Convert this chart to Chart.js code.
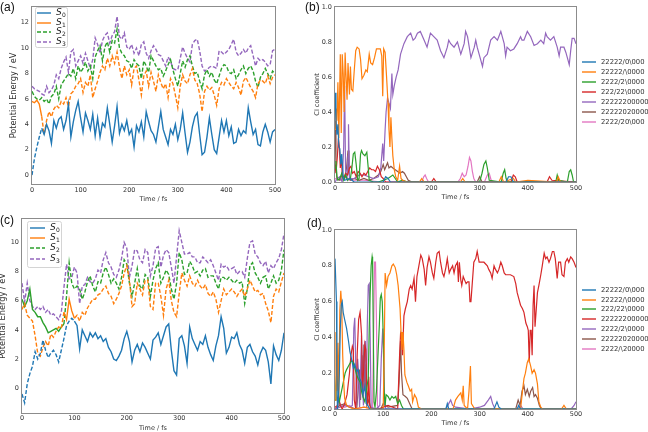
<!DOCTYPE html>
<html><head><meta charset="utf-8">
<script src="https://cdn.jsdelivr.net/npm/chart.js@4.4.1/dist/chart.umd.min.js"></script>
<style>
html,body{margin:0;padding:0;background:#fff;width:648px;height:432px;overflow:hidden}
canvas{position:absolute;left:0;top:0}
</style></head><body>
<canvas id="pa" width="648" height="432"></canvas>
<canvas id="pb" width="648" height="432"></canvas>
<canvas id="pc" width="648" height="432"></canvas>
<canvas id="pd" width="648" height="432"></canvas>
<script>
// ---------- data ----------
const timeFs = [0,5,10,15,20,25,30,35,40,45,50,55,60,65,70,75,80,85,90,95,100,105,110,115,120,125,130,135,140,145,150,155,160,165,170,175,180,185,190,195,200,205,210,215,220,225,230,235,240,245,250,255,260,265,270,275,280,285,290,295,300,305,310,315,320,325,330,335,340,345,350,355,360,365,370,375,380,385,390,395,400,405,410,415,420,425,430,435,440,445,450,455,460,465,470,475,480,485,490,495,500];
const stateLabels = ['S0','S1','S2','S3'];

// panel (a) potential energies (eV)
const energyA_S0 = [0.0,1.3,2.2,3.0,3.7,3.2,4.0,3.5,2.5,4.3,
3.7,4.4,4.6,3.6,4.3,5.6,3.0,4.2,5.1,5.8,
4.5,3.4,4.9,4.3,3.6,4.8,3.1,4.5,3.0,4.1,
3.8,5.3,4.0,2.6,3.9,5.4,3.3,4.0,3.5,4.3,
3.2,3.6,2.2,3.9,3.4,4.2,3.0,5.0,4.2,3.5,
3.2,2.6,3.8,5.0,3.6,3.0,2.4,3.6,3.2,4.0,
2.8,3.6,4.9,3.3,1.8,2.6,3.8,4.6,4.9,3.2,
1.6,1.8,3.0,4.5,3.2,2.0,1.7,3.0,4.3,3.4,
4.3,3.1,3.8,2.5,2.6,3.6,3.1,3.5,3.3,5.3,
4.2,3.2,3.6,2.4,2.3,3.4,4.0,3.4,2.6,3.4,
3.6];
const energyA_S1 = [5.8,5.7,5.9,5.6,4.6,3.2,4.3,5.0,4.6,5.2,
5.5,5.3,5.8,5.6,6.1,5.4,6.4,6.6,7.0,7.2,
7.6,6.5,7.3,7.0,7.9,6.1,6.8,7.4,8.1,8.6,
8.3,9.2,8.6,9.4,8.8,9.7,8.5,7.6,8.6,7.9,
8.3,7.1,8.4,8.6,7.5,6.3,7.8,8.2,7.0,8.1,
7.4,6.6,7.9,7.3,6.8,7.2,6.1,7.6,7.2,6.3,
5.3,7.0,7.9,7.4,7.2,7.9,8.4,7.5,7.2,6.4,
5.0,6.6,7.0,6.7,6.9,6.3,5.5,6.8,7.3,7.1,
7.6,7.3,7.0,6.8,7.3,6.9,6.3,7.4,7.7,7.3,
6.9,6.6,6.1,7.2,7.5,7.4,7.2,7.8,7.2,7.7,
7.9];
const energyA_S2 = [6.6,6.2,6.0,5.9,6.1,5.8,6.0,5.6,6.2,6.4,
7.0,6.0,7.1,7.4,7.7,8.0,7.8,8.4,7.6,8.6,
8.1,8.4,8.9,8.2,8.6,7.6,9.3,9.8,10.2,9.0,
10.1,10.5,9.7,10.6,10.4,11.5,10.0,9.6,9.4,9.0,
8.9,8.4,9.1,8.8,8.6,7.6,9.0,8.6,8.1,9.4,
9.0,8.6,8.3,8.4,7.8,8.2,8.7,9.1,8.3,7.6,
7.0,8.0,9.0,8.5,9.1,9.4,8.6,8.0,8.1,7.4,
6.8,7.9,8.3,7.8,8.1,7.5,7.2,7.8,8.4,8.7,
8.6,8.1,8.0,8.3,7.6,7.9,8.3,8.6,8.0,8.4,
8.6,8.2,7.4,6.9,7.7,8.0,8.4,8.0,7.6,8.2,
8.0];
const energyA_S3 = [7.0,6.8,6.7,6.6,6.4,6.3,7.0,6.5,6.7,7.1,
7.9,7.6,8.4,8.9,9.3,8.1,9.7,9.9,8.6,9.0,
9.4,8.8,9.6,9.0,8.4,9.1,10.8,10.3,9.6,10.6,
11.0,11.2,10.4,11.0,11.3,12.5,10.9,10.7,11.2,10.1,
9.9,10.3,9.6,10.0,9.4,10.3,10.5,9.6,9.2,9.8,
10.2,9.9,9.5,9.4,9.0,8.6,9.3,9.0,8.4,8.3,
8.3,9.2,10.1,9.6,9.2,8.9,10.3,10.6,10.7,9.8,
8.6,8.2,8.3,8.5,8.6,8.5,8.4,9.8,9.7,9.5,
9.7,9.9,10.3,10.7,9.7,9.4,9.6,9.9,9.6,10.0,
10.2,9.4,8.6,9.2,9.0,9.1,8.9,8.6,8.7,9.8,
9.9];

// panel (c) potential energies (eV)
const energyC_S0 = [-0.4,-1.0,0.3,1.0,1.5,2.5,2.0,2.4,3.3,2.6,
2.1,2.4,2.6,2.3,1.8,2.6,3.4,4.3,4.6,4.8,
4.6,4.3,2.7,4.0,3.6,3.2,3.8,3.5,3.8,3.4,
3.6,3.2,3.4,2.8,2.5,2.0,1.9,2.2,2.6,3.4,
3.9,3.2,1.8,2.6,3.0,2.5,3.1,2.8,2.4,2.0,
3.3,3.5,3.8,3.0,3.6,4.2,4.4,2.6,1.2,0.9,
3.4,3.6,2.9,1.7,4.2,3.4,3.0,2.6,3.2,3.0,
3.6,2.8,2.3,1.9,2.9,3.6,4.9,4.1,2.4,2.8,
3.5,3.4,3.8,3.0,2.6,1.7,2.8,3.0,2.5,2.2,
1.6,2.4,2.8,2.6,1.8,0.3,2.9,2.3,1.9,2.6,
3.8];
const energyC_S1 = [5.4,5.8,5.0,4.8,4.6,3.6,2.4,2.2,2.8,3.2,
2.9,3.7,3.5,3.9,4.2,4.1,5.2,4.7,6.1,5.3,
4.8,5.0,4.6,5.2,5.0,5.5,5.8,6.1,6.1,6.4,
6.5,6.8,7.0,6.5,6.3,5.8,6.1,6.5,7.0,7.9,
8.4,7.4,5.6,5.8,7.2,6.8,6.4,7.4,7.4,5.6,
5.4,7.2,7.2,6.3,5.0,6.8,7.4,6.0,5.2,4.9,
6.5,7.9,7.4,7.0,7.7,7.2,7.0,7.4,7.0,6.8,
7.1,6.5,6.3,6.6,6.1,5.2,6.0,6.8,6.4,6.6,
6.8,6.6,6.3,6.6,6.8,6.3,6.8,7.4,7.0,6.6,
6.7,6.4,6.5,5.8,5.3,4.5,6.3,6.8,6.6,7.3,
7.9];
const energyC_S2 = [6.1,5.6,6.0,6.8,5.4,5.2,4.9,4.9,4.5,4.2,
3.8,3.9,4.0,4.1,3.9,4.2,4.4,6.3,8.6,7.2,
6.8,7.0,6.8,6.1,6.6,7.3,7.7,7.0,6.6,7.3,
7.2,7.9,8.3,7.8,7.2,7.5,7.2,6.8,7.6,8.8,
8.5,7.2,6.3,7.2,8.2,7.0,6.8,7.8,7.6,6.3,
7.4,8.2,8.6,7.2,7.6,8.1,7.8,6.8,6.1,7.2,
9.3,8.8,7.8,7.9,8.7,8.4,7.9,8.0,7.7,8.1,
8.2,7.6,7.7,7.7,7.2,6.8,7.6,7.6,7.4,7.6,
7.4,7.2,7.4,7.2,7.3,5.8,6.8,8.4,8.6,7.9,
7.6,7.2,7.6,7.7,6.8,7.2,7.7,7.2,7.4,8.1,
9.5];
const energyC_S3 = [7.2,5.9,7.2,6.0,5.6,5.4,5.6,5.4,5.6,5.2,
5.4,5.0,5.1,4.9,4.7,5.2,6.9,8.5,7.5,7.6,
8.3,7.9,5.8,7.0,7.1,7.6,7.3,7.2,7.5,8.1,
7.9,8.8,9.3,8.6,8.3,7.8,7.6,8.1,8.9,10.0,
9.6,7.6,8.4,9.5,9.4,8.8,8.6,9.5,9.3,7.7,
8.4,9.6,9.7,8.3,9.1,9.5,9.3,8.3,7.2,9.0,
10.8,10.0,9.2,9.2,9.3,9.0,9.0,8.6,8.6,9.0,
8.8,8.6,8.8,8.4,7.9,7.4,8.5,8.3,8.4,8.1,
8.2,8.3,7.8,8.0,8.0,7.6,8.9,10.0,10.1,9.2,
9.0,8.6,8.4,8.7,7.9,8.4,8.2,8.6,8.9,9.5,
10.6];

// panel (b) CI coefficients: [time fs, coefficient]
const ciLabelsB = ['22222/0\\000','22222/\\0000','2222/2\\0000','222/22\\0000','22222200000','22222020000','2222/20\\000'];
const ciB_0 = [[0,0.51],[2,0.35],[4,0.27],[6,0.33],[8,0.2],[10,0.19],[12,0.1],[14,0.16],[17,0.03],[20,0.01],[30,0.02],[40,0.0],[100,0.0],[105,0.03],[110,0.02],[115,0.0],[355,0],[360,0.03],[365,0.03],[370,0],[500,0]];
const ciB_1 = [[0,0.30],[2,0.42],[4,0.35],[6,0.57],[8,0.25],[11,0.73],[13,0.28],[15,0.73],[17,0.62],[19,0.40],[21,0.74],[23,0.60],[25,0.47],[27,0.68],[30,0.50],[32,0.66],[34,0.53],[37,0.52],[40,0.64],[43,0.75],[46,0.77],[50,0.76],[53,0.70],[56,0.59],[60,0.61],[64,0.64],[67,0.63],[71,0.73],[74,0.68],[78,0.67],[82,0.71],[86,0.76],[90,0.76],[94,0.76],[97,0.72],[99,0.49],[101,0.76],[104,0.74],[107,0.60],[110,0.45],[112,0.30],[114,0.20],[116,0.37],[118,0.25],[120,0.15],[123,0.07],[126,0.03],[130,0.01],[134,0.09],[137,0.02],[140,0.01],[150,0.0],[175,0.0],[180,0.02],[185,0.0],[260,0],[265,0.02],[270,0],[340,0],[345,0.03],[350,0],[370,0.02],[375,0],[400,0.01],[460,0],[463,0.03],[468,0],[500,0]];
const ciB_2 = [[0,0.08],[2,0.12],[4,0.03],[6,0.01],[10,0.02],[14,0.05],[18,0.01],[22,0.04],[26,0.01],[32,0.02],[35,0.08],[38,0.16],[41,0.17],[44,0.10],[47,0.01],[50,0.02],[53,0.16],[55,0.18],[58,0.16],[62,0.15],[66,0.17],[69,0.08],[71,0.01],[80,0.0],[90,0.0],[100,0.01],[110,0.02],[120,0.04],[125,0.02],[130,0.0],[140,0.01],[150,0.0],[300,0.0],[305,0.05],[309,0.10],[313,0.12],[316,0.08],[320,0.01],[345,0.0],[349,0.05],[352,0.07],[355,0.02],[358,0.0],[458,0],[461,0.04],[464,0.01],[482,0.0],[486,0.06],[489,0.07],[492,0.04],[495,0.0],[500,0.0]];
const ciB_3 = [[0,0.1],[2,0.05],[5,0.15],[7,0.25],[9,0.2],[11,0.08],[13,0.15],[15,0.04],[18,0.02],[22,0.05],[26,0.04],[30,0.08],[33,0.09],[36,0.05],[40,0.06],[44,0.03],[48,0.06],[52,0.05],[56,0.03],[60,0.05],[64,0.04],[68,0.06],[72,0.08],[76,0.07],[80,0.07],[84,0.06],[88,0.09],[92,0.07],[96,0.03],[100,0.02],[105,0.0],[200,0.0],[205,0.02],[210,0],[365,0],[370,0.04],[374,0.03],[378,0],[440,0],[445,0.03],[450,0.01],[500,0]];
const ciB_4 = [[0,0],[5,0.02],[10,0.03],[15,0.0],[18,0.2],[20,0.55],[22,0.05],[25,0.02],[27,0.15],[28,0.33],[30,0.02],[40,0.02],[50,0.04],[60,0.04],[70,0.03],[80,0.02],[90,0.03],[95,0.08],[99,0.22],[101,0.12],[104,0.3],[106,0.4],[109,0.48],[112,0.45],[115,0.42],[118,0.62],[120,0.5],[123,0.55],[127,0.6],[131,0.64],[136,0.73],[143,0.79],[150,0.83],[157,0.85],[162,0.81],[166,0.82],[171,0.85],[177,0.86],[185,0.81],[191,0.77],[198,0.85],[205,0.83],[212,0.81],[219,0.75],[226,0.71],[233,0.77],[236,0.81],[240,0.79],[247,0.77],[254,0.80],[261,0.73],[268,0.79],[271,0.86],[275,0.83],[282,0.71],[289,0.77],[292,0.81],[295,0.77],[302,0.70],[306,0.66],[309,0.71],[316,0.73],[323,0.81],[330,0.83],[337,0.81],[344,0.86],[351,0.79],[354,0.72],[357,0.77],[364,0.75],[371,0.76],[378,0.79],[385,0.83],[388,0.81],[392,0.81],[399,0.86],[406,0.83],[413,0.78],[420,0.79],[427,0.81],[433,0.79],[437,0.85],[440,0.83],[447,0.81],[454,0.83],[461,0.77],[465,0.72],[468,0.77],[475,0.77],[479,0.74],[483,0.70],[486,0.67],[489,0.75],[492,0.82],[496,0.82],[500,0.79]];
const ciB_5 = [[0,0.35],[2,0.1],[4,0.02],[10,0.01],[15,0.04],[20,0.02],[24,0.08],[27,0.18],[29,0.05],[32,0.01],[40,0.02],[50,0.01],[60,0.02],[70,0.01],[80,0.02],[90,0.04],[95,0.06],[100,0.10],[103,0.07],[106,0.09],[109,0.11],[112,0.08],[116,0.09],[120,0.08],[125,0.07],[130,0.06],[135,0.05],[140,0.06],[144,0.05],[148,0.03],[152,0.01],[160,0.0],[295,0],[300,0.03],[305,0],[500,0]];
const ciB_6 = [[0,0.02],[10,0.01],[20,0.03],[30,0.01],[60,0.01],[100,0.0],[180,0.0],[184,0.03],[187,0.04],[190,0.02],[194,0],[255,0],[260,0.02],[264,0.05],[268,0.03],[272,0.04],[276,0.09],[279,0.14],[282,0.12],[285,0.06],[288,0.02],[292,0.0],[310,0.0],[316,0.04],[320,0.05],[324,0.01],[330,0],[500,0]];

// panel (d) CI coefficients: [time fs, coefficient]
const ciLabelsD = ['22222/0\\000','22222/\\0000','222/22\\0000','22222200000','2222/2\\0000','22222020000','2222/\\20000'];
const ciD_0 = [[0,0.84],[2,0.84],[3,0.6],[4,0.2],[5,0.0],[7,0.05],[9,0.2],[11,0.45],[13,0.58],[15,0.6],[17,0.54],[20,0.5],[24,0.45],[28,0.38],[31,0.32],[35,0.27],[38,0.23],[41,0.25],[45,0.21],[48,0.22],[51,0.17],[55,0.15],[58,0.08],[62,0.13],[65,0.03],[68,0.02],[72,0.0],[100,0.0],[230,0],[233,0.03],[236,0],[330,0],[336,0.04],[340,0.01],[345,0],[378,0],[381,0.02],[385,0],[500,0]];
const ciD_1 = [[0,0.05],[2,0.43],[4,0.1],[6,0.37],[8,0.06],[10,0.55],[12,0.66],[14,0.57],[16,0.3],[18,0.15],[20,0.06],[24,0.02],[30,0.01],[40,0.0],[60,0.01],[80,0.0],[100,0.0],[102,0.3],[104,0.76],[107,0.69],[110,0.74],[114,0.76],[118,0.8],[121,0.81],[125,0.79],[128,0.75],[131,0.69],[135,0.56],[137,0.43],[139,0.33],[141,0.43],[143,0.33],[145,0.19],[149,0.15],[152,0.13],[156,0.1],[159,0.11],[161,0.04],[165,0.08],[169,0.06],[173,0.01],[180,0.0],[245,0],[250,0.05],[255,0.07],[261,0.09],[264,0.05],[266,0.13],[268,0.02],[275,0.0],[278,0.1],[281,0.24],[283,0.03],[290,0],[385,0],[389,0.1],[392,0.17],[395,0.2],[399,0.26],[402,0.28],[406,0.24],[409,0.2],[413,0.22],[416,0.2],[420,0.14],[423,0.04],[427,0.01],[430,0],[470,0],[475,0.02],[480,0],[500,0]];
const ciD_2 = [[0,0.05],[2,0.13],[4,0.22],[6,0.12],[9,0.04],[12,0.08],[15,0.12],[18,0.16],[21,0.2],[24,0.22],[28,0.24],[32,0.26],[35,0.27],[38,0.26],[42,0.22],[45,0.19],[48,0.17],[52,0.15],[55,0.1],[59,0.06],[62,0.04],[66,0.12],[69,0.17],[71,0.45],[73,0.65],[75,0.8],[77,0.85],[78,0.83],[79,0.55],[81,0.04],[83,0.01],[86,0.1],[89,0.29],[92,0.47],[94,0.62],[96,0.64],[98,0.6],[100,0.42],[102,0.1],[104,0.02],[106,0.08],[110,0.07],[114,0.05],[118,0.07],[122,0.06],[126,0.07],[130,0.03],[134,0.05],[138,0.02],[142,0.0],[150,0.0],[500,0]];
const ciD_3 = [[0,0.01],[5,0.02],[8,0.06],[11,0.02],[15,0.0],[20,0.03],[25,0.08],[30,0.2],[33,0.3],[36,0.35],[38,0.33],[40,0.05],[43,0.0],[46,0.3],[49,0.5],[52,0.54],[55,0.42],[57,0.1],[59,0.2],[62,0.36],[64,0.33],[66,0.1],[68,0.02],[70,0.18],[72,0.02],[75,0.0],[90,0.0],[100,0.01],[110,0.02],[120,0.01],[130,0.0],[134,0.3],[136,0.42],[138,0.4],[140,0.3],[143,0.52],[146,0.56],[150,0.6],[154,0.67],[157,0.69],[160,0.67],[164,0.73],[167,0.6],[170,0.74],[174,0.8],[178,0.86],[181,0.84],[185,0.78],[188,0.69],[191,0.79],[195,0.85],[198,0.82],[202,0.76],[205,0.73],[209,0.82],[212,0.87],[216,0.88],[219,0.82],[223,0.76],[226,0.74],[230,0.79],[233,0.84],[237,0.76],[240,0.78],[244,0.8],[247,0.76],[250,0.8],[254,0.82],[256,0.71],[258,0.82],[261,0.72],[263,0.69],[266,0.74],[269,0.72],[272,0.7],[275,0.71],[278,0.71],[280,0.6],[282,0.6],[285,0.71],[288,0.82],[292,0.84],[295,0.88],[299,0.82],[303,0.82],[309,0.82],[316,0.8],[319,0.78],[323,0.76],[326,0.73],[330,0.8],[333,0.78],[337,0.76],[340,0.78],[344,0.82],[347,0.8],[351,0.76],[354,0.75],[358,0.75],[364,0.75],[371,0.74],[375,0.7],[378,0.65],[382,0.61],[385,0.58],[389,0.56],[392,0.54],[396,0.48],[399,0.46],[401,0.44],[403,0.26],[405,0.44],[407,0.44],[409,0.3],[411,0.58],[413,0.69],[415,0.46],[417,0.46],[420,0.65],[423,0.69],[427,0.75],[430,0.8],[434,0.87],[437,0.84],[440,0.85],[444,0.82],[447,0.84],[451,0.88],[454,0.88],[457,0.84],[461,0.73],[464,0.82],[468,0.82],[471,0.75],[475,0.74],[478,0.82],[482,0.84],[485,0.82],[489,0.85],[492,0.84],[496,0.82],[500,0.79]];
const ciD_4 = [[0,0.0],[10,0.01],[20,0.02],[30,0.01],[36,0.02],[39,0.45],[41,0.51],[43,0.25],[45,0.02],[47,0.28],[49,0.2],[51,0.01],[53,0.2],[55,0.41],[57,0.15],[59,0.02],[61,0.35],[63,0.38],[65,0.05],[67,0.47],[69,0.69],[71,0.7],[73,0.4],[75,0.01],[85,0.0],[93,0.02],[96,0.28],[99,0.45],[101,0.32],[103,0.02],[106,0.0],[230,0.0],[236,0.03],[240,0.05],[244,0.02],[250,0.01],[280,0.0],[300,0.01],[310,0.02],[318,0.05],[323,0.07],[327,0.03],[332,0.0],[380,0.0],[385,0.02],[390,0.0],[490,0],[496,0.02],[500,0.04]];
const ciD_5 = [[0,0.0],[10,0.02],[20,0.03],[30,0.01],[45,0.0],[48,0.1],[51,0.22],[53,0.05],[56,0.3],[58,0.15],[60,0.36],[62,0.1],[64,0.25],[66,0.02],[70,0.05],[75,0.0],[95,0.0],[100,0.03],[110,0.01],[130,0.02],[133,0.15],[136,0.38],[138,0.2],[141,0.08],[146,0.07],[150,0.06],[155,0.03],[160,0.0],[375,0.0],[380,0.05],[384,0.02],[388,0.1],[392,0.13],[395,0.08],[399,0.11],[403,0.07],[406,0.1],[410,0.12],[413,0.07],[416,0.08],[420,0.06],[424,0.02],[428,0],[500,0]];
const ciD_6 = [[0,0.0],[10,0.03],[20,0.01],[30,0.02],[40,0.0],[60,0.01],[78,0.0],[80,0.4],[82,0.82],[84,0.82],[86,0.5],[88,0.02],[92,0.0],[500,0]];

// ---------- styling ----------
const C = ['#1f77b4','#ff7f0e','#2ca02c','#d62728','#9467bd','#8c564b','#e377c2'];
const CE = ['#1f77b4','#ff7f0e','#2ca02c','#9467bd'];
const FONT = 'DejaVu Sans';
const TXT = '#333333';
const DASH = [4,2];

const decos = {};
const decoPlugin = {
  id: 'deco',
  afterDatasetsDraw(chart) {
    const c = chart.ctx, a = chart.chartArea;
    c.save();
    c.strokeStyle = '#8c8c8c'; c.lineWidth = 1;
    c.strokeRect(Math.round(a.left) - 0.5, Math.round(a.top) - 0.5, Math.round(a.right - a.left) + 1, Math.round(a.bottom - a.top) + 1);
    c.restore();
  },
  afterDraw(chart) {
    const d = decos[chart.canvas.id]; if (!d) return;
    const c = chart.ctx;
    c.save();
    c.fillStyle = '#111'; c.font = '12px "Liberation Sans"'; c.textBaseline = 'middle'; c.textAlign = 'left';
    c.fillText(d.label, d.lx, d.ly);
    const L = d.legend;
    if (L.kind === 'energy') {
      c.beginPath();
      c.roundRect(L.x + 0.5, L.y + 0.5, L.w, L.h, 2);
      c.fillStyle = 'rgba(255,255,255,0.85)'; c.fill();
      c.strokeStyle = '#d4d4d4'; c.lineWidth = 1; c.stroke();
      L.rows.forEach((y, i) => {
        c.strokeStyle = CE[i]; c.lineWidth = 1.4; c.setLineDash(L.dash[i]);
        c.beginPath(); c.moveTo(L.x1, y); c.lineTo(L.x2, y); c.stroke();
        c.setLineDash([]);
        c.fillStyle = '#222'; c.textBaseline = 'middle';
        c.font = 'italic 9px "' + FONT + '"';
        c.fillText(stateLabels[i].charAt(0), L.tx, y);
        const w = c.measureText('S').width;
        c.font = '6px "' + FONT + '"';
        c.fillText(stateLabels[i].slice(1), L.tx + w + 0.2, y + 2.2);
      });
    } else {
      L.rows.forEach((y, i) => {
        c.strokeStyle = C[i]; c.lineWidth = 1.4;
        c.beginPath(); c.moveTo(L.x1, y); c.lineTo(L.x2, y); c.stroke();
        c.fillStyle = TXT; c.textBaseline = 'middle';
        c.font = '6.8px "' + FONT + '"';
        c.fillText(L.labels[i], L.tx, y);
      });
    }
    c.restore();
  }
};
Chart.register(decoPlugin);

function segDash(from, to) {
  return (ctx) => { const x = ctx.p0.parsed.x; return (x >= from && x < to) ? [] : DASH; };
}
function energySets(arrs, active) {
  return arrs.map((arr, i) => ({
    data: arr.map((v, k) => ({x: timeFs[k], y: v})),
    borderColor: CE[i], borderWidth: 1.4, borderDash: DASH,
    pointRadius: 0, tension: 0, fill: false,
    segment: { borderDash: segDash(active[i][0], active[i][1]) }
  }));
}
function ciSets(arrs) {
  return arrs.map((arr, i) => ({
    data: arr.map(p => ({x: p[0], y: p[1]})),
    borderColor: C[i], borderWidth: 1.2,
    pointRadius: 0, tension: 0, fill: false
  }));
}
function tickFont() { return {family: FONT, size: 6.5}; }
function makeChart(id, datasets, cfg) {
  new Chart(document.getElementById(id), {
    type: 'line',
    data: { datasets },
    options: {
      responsive: false, animation: false, devicePixelRatio: 1,
      layout: { padding: cfg.pad },
      plugins: { legend: {display: false}, tooltip: {enabled: false} },
      scales: {
        x: {
          type: 'linear', min: 0, max: 500,
          afterFit: s => { s.height = cfg.xh; },
          grid: {display: false, drawTicks: false}, border: {display: false},
          ticks: {stepSize: 100, autoSkip: false, includeBounds: false, padding: cfg.xtp, color: TXT, font: tickFont(), maxRotation: 0},
          title: {display: true, text: 'Time / fs', color: TXT, font: tickFont(), padding: {top: 0, bottom: cfg.xtt}}
        },
        y: {
          type: 'linear', min: cfg.ymin, max: cfg.ymax,
          afterFit: s => { s.width = cfg.yw; },
          grid: {display: false, drawTicks: false}, border: {display: false},
          ticks: {stepSize: cfg.ystep, autoSkip: false, includeBounds: false, padding: 3, color: TXT, font: tickFont(),
                  callback: cfg.yfmt},
          title: {display: true, text: cfg.ytitle, color: TXT, font: {family: FONT, size: cfg.ytfs}, padding: {top: cfg.ytt, bottom: 0}}
        }
      }
    }
  });
}

const intFmt = v => String(Math.round(v));
const decFmt = v => v.toFixed(1);

// (a)
decos.pa = { label: '(a)', lx: 0, ly: 8,
  legend: {kind: 'energy', x: 35, y: 7, w: 32, h: 40, rows: [13, 23, 32, 42], x1: 37, x2: 51, tx: 56, dash: [[], [], DASH, DASH]} };
makeChart('pa', energySets([energyA_S0, energyA_S1, energyA_S2, energyA_S3], [[20, 1e9], [-1, 20], [1e9, 1e9], [1e9, 1e9]]),
  {pad: {left: 0, top: 4, right: 373, bottom: 216}, xh: 32, yw: 32, xtp: 2, xtt: 13, ytt: 9, ytfs: 8.2,
   ymin: -0.7, ymax: 13.25, ystep: 2, yfmt: intFmt, ytitle: 'Potential Energy / eV'});

// (b)
decos.pb = { label: '(b)', lx: 305, ly: 8,
  legend: {kind: 'ci', rows: [62, 72, 82, 92, 102, 112, 122], x1: 582, x2: 596, tx: 601, labels: ciLabelsB} };
makeChart('pb', ciSets([ciB_0, ciB_1, ciB_2, ciB_3, ciB_4, ciB_5, ciB_6]),
  {pad: {left: 300, top: 2.5, right: 72, bottom: 216}, xh: 34, yw: 35, xtp: 2, xtt: 15, ytt: 13, ytfs: 6.5,
   ymin: 0, ymax: 1, ystep: 0.2, yfmt: decFmt, ytitle: 'CI coefficient'});

// (c)
decos.pc = { label: '(c)', lx: 0, ly: 221,
  legend: {kind: 'energy', x: 27, y: 221, w: 34, h: 46, rows: [228, 238, 248, 259], x1: 30, x2: 45, tx: 50, dash: [[], [], DASH, DASH]} };
makeChart('pc', energySets([energyC_S0, energyC_S1, energyC_S2, energyC_S3], [[100, 1e9], [80, 100], [-1, 80], [1e9, 1e9]]),
  {pad: {left: 0, top: 219, right: 364, bottom: 0}, xh: 19, yw: 22, xtp: 1, xtt: 0, ytt: -1.6, ytfs: 8.2,
   ymin: -1.7, ymax: 11.6, ystep: 2, yfmt: intFmt, ytitle: 'Potential Energy / eV'});

// (d)
decos.pd = { label: '(d)', lx: 307, ly: 224,
  legend: {kind: 'ci', rows: [290, 300, 309, 319, 329, 339, 349], x1: 582, x2: 596, tx: 601, labels: ciLabelsD} };
makeChart('pd', ciSets([ciD_0, ciD_1, ciD_2, ciD_3, ciD_4, ciD_5, ciD_6]),
  {pad: {left: 300, top: 230, right: 72, bottom: 0}, xh: 23, yw: 35, xtp: 1, xtt: 5, ytt: 13, ytfs: 6.5,
   ymin: 0, ymax: 1, ystep: 0.2, yfmt: decFmt, ytitle: 'CI coefficient'});
</script>
</body></html>
